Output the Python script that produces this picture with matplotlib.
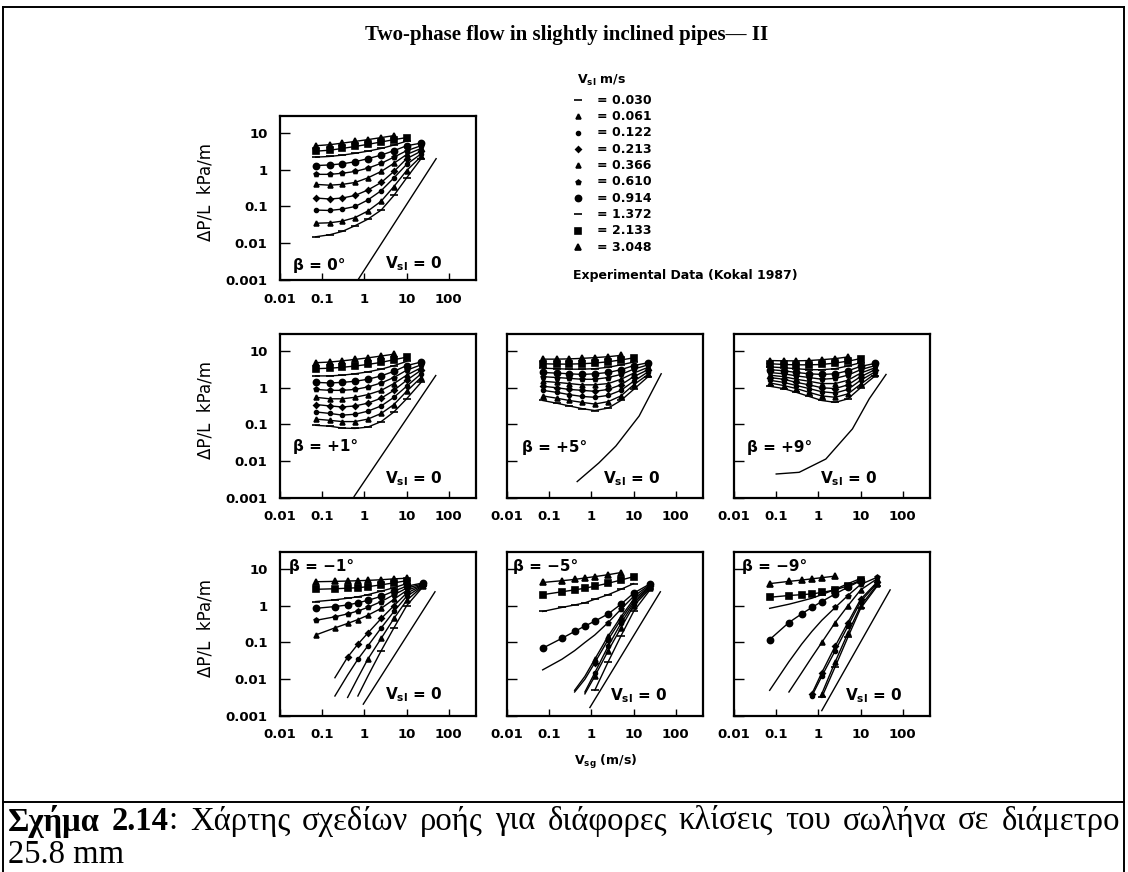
import numpy as np
import matplotlib

matplotlib.use("Agg")

import matplotlib.pyplot as plt
from matplotlib.lines import Line2D
from matplotlib.ticker import NullLocator

W, H = 1128, 872
nan = np.nan

# liquid superficial velocities (legend), rows of every table follow this order
VSL_LABELS = ["0.030", "0.061", "0.122", "0.213", "0.366",
              "0.610", "0.914", "1.372", "2.133", "3.048"]
MARKERS = ["_", "^", "o", "D", "^", "p", "o", "_", "s", "^"]
MSIZES = [5.5, 3.5, 2.8, 2.8, 3.5, 3.5, 4.4, 5.5, 4.0, 3.8]

# gas superficial velocity nodes (m/s)
VSG_POS = [0.07, 0.15, 0.3, 0.6, 1.2, 2.5, 5, 10, 22]
VSG_NEG = [0.07, 0.2, 0.4, 0.7, 1.2, 2.5, 5, 10, 25]

# pressure gradient dP/L (kPa/m), beta = 0
DP_B0 = [
    [0.015, 0.017, 0.021, 0.03, 0.045, 0.08, 0.2, 0.6, 2.0],
    [0.035, 0.036, 0.04, 0.05, 0.075, 0.14, 0.35, 0.95, 2.3],
    [0.08, 0.078, 0.085, 0.1, 0.15, 0.27, 0.6, 1.4, 2.7],
    [0.17, 0.16, 0.17, 0.2, 0.28, 0.45, 0.9, 2.0, 3.2],
    [0.4, 0.38, 0.4, 0.45, 0.6, 0.9, 1.5, 2.6, 3.8],
    [0.75, 0.75, 0.8, 0.9, 1.1, 1.5, 2.2, 3.3, 4.5],
    [1.3, 1.35, 1.45, 1.65, 2.0, 2.5, 3.3, 4.5, 5.3],
    [2.2, 2.3, 2.5, 2.8, 3.2, 3.8, 4.7, 6.0, nan],
    [3.2, 3.4, 3.8, 4.3, 4.9, 5.7, 6.6, 7.5, nan],
    [4.5, 4.8, 5.3, 5.9, 6.6, 7.5, 8.5, nan, nan],
]
DP_P1 = [
    [0.095, 0.09, 0.08, 0.078, 0.085, 0.12, 0.22, 0.5, 1.4],
    [0.14, 0.13, 0.12, 0.12, 0.14, 0.2, 0.35, 0.8, 1.9],
    [0.22, 0.2, 0.18, 0.19, 0.23, 0.32, 0.55, 1.1, 2.4],
    [0.35, 0.32, 0.3, 0.32, 0.38, 0.52, 0.85, 1.6, 3.0],
    [0.55, 0.5, 0.5, 0.55, 0.65, 0.85, 1.3, 2.2, 3.5],
    [0.9, 0.85, 0.85, 0.9, 1.05, 1.35, 1.9, 3.0, 4.2],
    [1.4, 1.35, 1.4, 1.5, 1.7, 2.1, 2.8, 4.0, 5.0],
    [2.1, 2.1, 2.2, 2.4, 2.7, 3.2, 4.0, 5.2, nan],
    [3.3, 3.4, 3.6, 3.9, 4.3, 4.9, 5.8, 6.8, nan],
    [4.8, 5.0, 5.4, 5.9, 6.5, 7.3, 8.2, nan, nan],
]
DP_P5 = [
    [0.45, 0.38, 0.32, 0.27, 0.24, 0.28, 0.45, 0.9, 2.0],
    [0.6, 0.52, 0.45, 0.4, 0.36, 0.42, 0.6, 1.2, 2.3],
    [0.85, 0.75, 0.65, 0.58, 0.55, 0.62, 0.85, 1.5, 2.7],
    [1.1, 1.0, 0.9, 0.85, 0.8, 0.9, 1.2, 2.0, 3.1],
    [1.5, 1.4, 1.3, 1.2, 1.2, 1.3, 1.7, 2.5, 3.6],
    [2.0, 1.9, 1.8, 1.7, 1.7, 1.9, 2.3, 3.2, 4.2],
    [2.6, 2.5, 2.4, 2.3, 2.4, 2.6, 3.1, 4.0, 4.8],
    [3.4, 3.3, 3.2, 3.2, 3.3, 3.6, 4.2, 5.0, nan],
    [4.5, 4.4, 4.4, 4.5, 4.7, 5.1, 5.7, 6.5, nan],
    [6.0, 6.0, 6.1, 6.3, 6.6, 7.0, 7.6, nan, nan],
]
DP_P9 = [
    [1.1, 0.95, 0.75, 0.58, 0.45, 0.4, 0.5, 1.0, 2.1],
    [1.35, 1.15, 0.95, 0.75, 0.6, 0.55, 0.68, 1.25, 2.4],
    [1.6, 1.4, 1.15, 0.95, 0.78, 0.72, 0.9, 1.6, 2.7],
    [1.9, 1.7, 1.4, 1.2, 1.0, 0.95, 1.2, 2.0, 3.1],
    [2.2, 2.0, 1.7, 1.5, 1.3, 1.3, 1.6, 2.5, 3.5],
    [2.6, 2.4, 2.1, 1.9, 1.7, 1.8, 2.2, 3.1, 4.0],
    [3.1, 2.9, 2.6, 2.4, 2.3, 2.4, 2.9, 3.8, 4.6],
    [3.7, 3.5, 3.3, 3.1, 3.1, 3.3, 3.9, 4.8, nan],
    [4.5, 4.3, 4.2, 4.2, 4.3, 4.7, 5.3, 6.2, nan],
    [5.5, 5.4, 5.4, 5.5, 5.8, 6.2, 6.9, nan, nan],
]
DP_M1 = [
    [nan, nan, nan, 0.0035, 0.012, 0.06, 0.25, 1.0, 3.4],
    [nan, nan, 0.0032, 0.011, 0.035, 0.13, 0.45, 1.4, 3.5],
    [nan, 0.0035, 0.013, 0.035, 0.08, 0.25, 0.7, 1.8, 3.6],
    [nan, 0.011, 0.04, 0.09, 0.18, 0.45, 1.0, 2.2, 3.7],
    [0.16, 0.25, 0.33, 0.42, 0.55, 0.85, 1.5, 2.6, 3.8],
    [0.4, 0.5, 0.6, 0.72, 0.9, 1.3, 2.0, 3.0, 4.0],
    [0.85, 0.95, 1.05, 1.2, 1.4, 1.8, 2.5, 3.4, 4.2],
    [1.3, 1.45, 1.6, 1.75, 2.0, 2.5, 3.1, 4.0, nan],
    [2.8, 2.9, 3.0, 3.1, 3.3, 3.7, 4.2, 4.8, nan],
    [4.5, 4.6, 4.7, 4.8, 4.9, 5.1, 5.4, 5.6, nan],
]
DP_M5 = [
    [nan, nan, nan, nan, 0.005, 0.03, 0.15, 0.7, 2.8],
    [nan, nan, nan, 0.004, 0.012, 0.06, 0.25, 1.0, 3.0],
    [nan, nan, nan, 0.0045, 0.015, 0.08, 0.33, 1.15, 3.2],
    [nan, nan, 0.0045, 0.01, 0.028, 0.12, 0.42, 1.3, 3.4],
    [nan, nan, 0.005, 0.012, 0.035, 0.15, 0.5, 1.5, 3.6],
    [0.018, 0.035, 0.06, 0.1, 0.16, 0.35, 0.8, 1.8, 3.8],
    [0.07, 0.13, 0.2, 0.28, 0.38, 0.6, 1.1, 2.2, 4.0],
    [0.7, 0.9, 1.05, 1.2, 1.5, 2.0, 2.8, 4.0, nan],
    [2.0, 2.4, 2.7, 3.0, 3.4, 4.1, 5.0, 6.2, nan],
    [4.3, 4.8, 5.2, 5.7, 6.2, 7.0, 8.0, nan, nan],
]
DP_M9 = [
    [nan, nan, nan, nan, 0.0032, 0.022, 0.14, 0.85, 3.5],
    [nan, nan, nan, nan, 0.004, 0.03, 0.18, 1.0, 3.8],
    [nan, nan, nan, 0.0035, 0.012, 0.06, 0.28, 1.3, 4.2],
    [nan, nan, nan, 0.004, 0.015, 0.08, 0.35, 1.5, 4.5],
    [nan, 0.0045, 0.015, 0.04, 0.1, 0.35, 1.0, 2.7, 5.5],
    [0.005, 0.03, 0.09, 0.2, 0.4, 0.9, 1.9, 3.8, 6.0],
    [0.12, 0.35, 0.6, 0.9, 1.3, 2.1, 3.2, 4.8, nan],
    [0.85, 1.1, 1.35, 1.6, 2.0, 2.8, 4.0, 5.5, nan],
    [1.7, 1.9, 2.0, 2.1, 2.3, 2.7, 3.5, 5.0, nan],
    [4.0, 4.6, 5.0, 5.4, 5.8, 6.4, nan, nan, nan],
]

# first node index that carries an experimental point
MK_POS = [0] * 10
MK_M1 = [5, 4, 3, 2, 0, 0, 0, 0, 0, 0]
MK_M5 = [4, 4, 4, 4, 4, 5, 0, 0, 0, 0]
MK_M9 = [4, 4, 3, 3, 4, 5, 0, 4, 0, 0]

# V_sl = 0 (gas only) curves
DRY_B0 = ([0.7, 50], [0.001, 2.0])
DRY_P1 = ([0.57, 49], [0.0011, 2.15])
DRY_P5 = ([0.46, 1.5, 3.8, 13.5, 45], [0.0028, 0.009, 0.026, 0.17, 2.4])
DRY_P9 = ([0.1, 0.35, 1.5, 6.4, 16, 40], [0.0045, 0.005, 0.0115, 0.076, 0.5, 2.3])
DRY_M1 = ([0.94, 47], [0.0021, 2.4])
DRY_M5 = ([0.92, 43], [0.0017, 2.4])
DRY_M9 = ([1.2, 50], [0.0014, 2.7])

BETA_TEXT = ["β = 0°", "β = +1°", "β = +5°", "β = +9°", "β = −1°", "β = −5°", "β = −9°"]

XTICKS = [0.01, 0.1, 1, 10, 100]
XTICK_LABELS = ["0.01", "0.1", "1", "10", "100"]
YTICKS = [0.001, 0.01, 0.1, 1, 10]
YTICK_LABELS = ["0.001", "0.01", "0.1", "1", "10"]

plt.rcParams["font.family"] = "DejaVu Sans"
plt.rcParams["font.weight"] = "bold"
plt.rcParams["mathtext.fontset"] = "dejavusans"
plt.rcParams["mathtext.default"] = "bf"

fig = plt.figure(figsize=(W / 100, H / 100), dpi=100)
fig.patch.set_facecolor("white")

PANEL_W, PANEL_H = 196, 164
panels = [
    # (left px, top px, vsg, table, marks, dry, beta pos, vsl pos, left column)
    (280, 116, VSG_POS, DP_B0, MK_POS, DRY_B0, (0.066, 0.09), (0.535, 0.10), True),
    (280, 334, VSG_POS, DP_P1, MK_POS, DRY_P1, (0.066, 0.315), (0.535, 0.115), True),
    (507, 334, VSG_POS, DP_P5, MK_POS, DRY_P5, (0.077, 0.31), (0.49, 0.115), False),
    (734, 334, VSG_POS, DP_P9, MK_POS, DRY_P9, (0.067, 0.31), (0.44, 0.115), False),
    (280, 552, VSG_NEG, DP_M1, MK_M1, DRY_M1, (0.045, 0.91), (0.535, 0.13), True),
    (507, 552, VSG_NEG, DP_M5, MK_M5, DRY_M5, (0.03, 0.91), (0.525, 0.125), False),
    (734, 552, VSG_NEG, DP_M9, MK_M9, DRY_M9, (0.04, 0.91), (0.565, 0.125), False),
]

for k, (left, top, vsg, table, mk, dry, bpos, vpos, first_col) in enumerate(panels):
    ax = fig.add_axes([left / W, 1 - (top + PANEL_H) / H, PANEL_W / W, PANEL_H / H])
    ax.set_xscale("log")
    ax.set_yscale("log")
    x = np.array(vsg, dtype=float)
    for i, row in enumerate(table):
        y = np.array(row, dtype=float)
        ax.plot(x, y, color="black", lw=1.0)
        sel = ~np.isnan(y) & (np.arange(len(y)) >= mk[i])
        ax.plot(x[sel], y[sel], ls="none", marker=MARKERS[i], ms=MSIZES[i],
                color="black", mew=1.2)
    ax.plot(dry[0], dry[1], color="black", lw=1.0)

    ax.set_xlim(0.01, 440)
    ax.set_ylim(0.001, 29)
    ax.set_xticks(XTICKS)
    ax.set_xticklabels(XTICK_LABELS)
    ax.set_yticks(YTICKS)
    ax.set_yticklabels(YTICK_LABELS if first_col else [])
    ax.xaxis.set_minor_locator(NullLocator())
    ax.yaxis.set_minor_locator(NullLocator())
    ax.tick_params(axis="x", direction="in", length=5, width=1, pad=9, labelsize=9.5)
    ax.tick_params(axis="y", direction="in", length=7, width=1, pad=9, labelsize=9.5)
    for sp in ax.spines.values():
        sp.set_linewidth(1.6)

    ax.text(bpos[0], bpos[1], BETA_TEXT[k], transform=ax.transAxes,
            fontsize=11, ha="left", va="center")
    ax.text(vpos[0], vpos[1], r"V$_{sl}$ = 0", transform=ax.transAxes,
            fontsize=11, ha="left", va="center")
    if first_col:
        fig.text(205 / W, 1 - (top + PANEL_H / 2 - 6) / H, "ΔP/L  kPa/m", rotation=90,
                 ha="center", va="center", fontsize=12, weight="normal")

# x axis label under the middle column
fig.text(606 / W, 1 - 762 / H, r"V$_{sg}$ (m/s)", ha="center", va="center", fontsize=9)

# legend block
fig.text(577 / W, 1 - 80 / H, r"V$_{sl}$ m/s", ha="left", va="center", fontsize=9)
for i, lab in enumerate(VSL_LABELS):
    yy = 1 - (100 + i * 16.35) / H
    fig.add_artist(Line2D([578 / W], [yy], transform=fig.transFigure, ls="none",
                          marker=MARKERS[i], ms=MSIZES[i], color="black", mew=1.2))
    fig.text(597 / W, yy, "= " + lab, ha="left", va="center", fontsize=9)
fig.text(573 / W, 1 - 275 / H, "Experimental Data (Kokal 1987)", ha="left",
         va="center", fontsize=9)

# title
fig.text(567 / W, 1 - 35 / H, "Two-phase flow in slightly inclined pipes— II",
         ha="center", va="center", family="Liberation Serif", weight="bold", fontsize=15)

# frame of the figure and caption box
frame = [
    ([3, 3], [7, 872]),
    ([1124, 1124], [7, 872]),
    ([3, 1124], [7, 7]),
    ([3, 1124], [802, 802]),
]
for xs, ys in frame:
    fig.add_artist(Line2D([v / W for v in xs], [1 - v / H for v in ys],
                          transform=fig.transFigure, color="black", lw=1.4))

# caption, justified across the box
CAPTION = [("Σχήμα", "bold", True), ("2.14", "bold", True), (":", "normal", False),
           ("Χάρτης", "normal", True), ("σχεδίων", "normal", True), ("ροής", "normal", True),
           ("για", "normal", True), ("διάφορες", "normal", True), ("κλίσεις", "normal", True),
           ("του", "normal", True), ("σωλήνα", "normal", True), ("σε", "normal", True),
           ("διάμετρο", "normal", True)]
renderer = fig.canvas.get_renderer()
cap_texts = []
for tok, wt, _ in CAPTION:
    cap_texts.append(fig.text(0, 1 - 821 / H, tok, family="Liberation Serif",
                              weight=wt, fontsize=23.5, ha="left", va="center"))
widths = [t.get_window_extent(renderer).width for t in cap_texts]
n_gaps = sum(1 for i, c in enumerate(CAPTION) if c[2] and i > 0)
gap = (1120 - 8 - sum(widths)) / n_gaps
xpos = 8.0
for i, (t, w) in enumerate(zip(cap_texts, widths)):
    if i > 0 and CAPTION[i][2]:
        xpos += gap
    t.set_x(xpos / W)
    xpos += w
fig.text(8 / W, 1 - 855 / H, "25.8 mm", family="Liberation Serif", weight="normal",
         fontsize=23.5, ha="left", va="center")

fig.savefig("out.png", dpi=100, facecolor="white")
